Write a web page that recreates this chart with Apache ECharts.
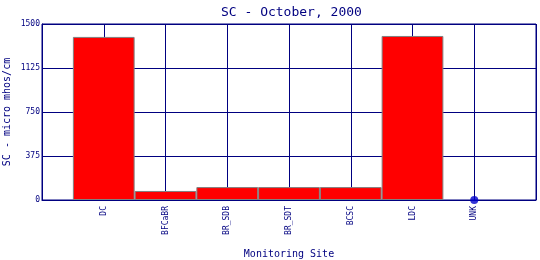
<!DOCTYPE html>
<html>
<head>
<meta charset="utf-8">
<script src="https://cdn.jsdelivr.net/npm/echarts@6/dist/echarts.min.js"></script>
<style>html,body{margin:0;padding:0;background:#fff}#c{width:540px;height:260px}</style>
</head>
<body>
<div id="c"></div>
<script>
var categories = ['', 'DC', 'BFCaBR', 'BR_SDB', 'BR_SDT', 'BCSC', 'LDC', 'UNK', ''];
var scValues = [null, 1390, 77, 110, 110, 110, 1398, null, null];
var unkPoints = [null, null, null, null, null, null, null, 0, null];
var yTicks = [0, 375, 750, 1125, 1500];

var navy = '#000080';
var font = 'DejaVu Sans Mono';
var chart = echarts.init(document.getElementById('c'));
chart.setOption({
  animation: false,
  backgroundColor: '#fff',
  title: {
    text: 'SC - October, 2000',
    left: 216, top: 1,
    textStyle: {color: navy, fontSize: 13, fontWeight: 'normal', fontFamily: font}
  },
  grid: {left: 42, right: 4, top: 24, bottom: 60, show: true, borderColor: navy, borderWidth: 1, containLabel: false, outerBoundsMode: 'none'},
  xAxis: {
    type: 'category',
    data: categories,
    boundaryGap: false,
    axisLine: {lineStyle: {color: navy, width: 1}},
    axisTick: {show: false},
    splitLine: {show: true, interval: 0, lineStyle: {color: navy, width: 1}},
    axisLabel: {rotate: 90, interval: 0, fontSize: 8, fontFamily: font, color: navy, margin: 6},
    name: 'Monitoring Site',
    nameLocation: 'middle',
    nameGap: 49,
    nameMoveOverlap: false,
    nameTextStyle: {color: navy, fontSize: 10, fontFamily: font}
  },
  yAxis: {
    type: 'value',
    min: yTicks[0], max: yTicks[yTicks.length - 1], interval: yTicks[1] - yTicks[0],
    axisLine: {show: true, lineStyle: {color: navy, width: 1}},
    axisTick: {show: false},
    splitLine: {show: true, lineStyle: {color: navy, width: 1}},
    axisLabel: {fontSize: 8, fontFamily: font, color: navy, margin: 2, formatter: function (v) { return String(v); }},
    name: 'SC - micro mhos/cm',
    nameLocation: 'middle',
    nameGap: 30,
    nameMoveOverlap: false,
    nameTextStyle: {color: navy, fontSize: 10, fontFamily: font}
  },
  series: [
    {
      type: 'bar',
      data: scValues,
      barWidth: '100%',
      itemStyle: {color: '#ff0000', borderColor: '#808080', borderWidth: 1}
    },
    {
      type: 'scatter',
      data: unkPoints,
      symbolSize: 8,
      itemStyle: {color: '#0000cc'},
      z: 5
    }
  ]
});
</script>
</body>
</html>
